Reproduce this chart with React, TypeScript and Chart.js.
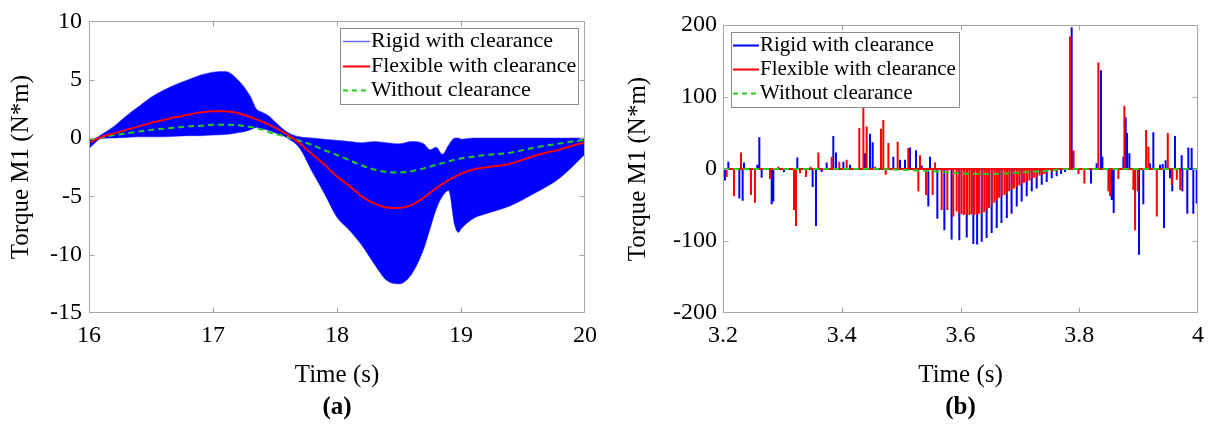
import React, { useEffect, useRef } from 'react';
import { Chart, registerables } from 'chart.js';

Chart.register(...registerables);

const FONT = '"Liberation Serif", "Times New Roman", serif';

// ---------- Panel (a): time 16-20 s ----------
const timeA = [16.0, 16.05, 16.1, 16.2, 16.3, 16.4, 16.5, 16.6, 16.7, 16.8, 16.9, 17.0, 17.1, 17.2, 17.3, 17.35, 17.4, 17.45, 17.5, 17.6, 17.7, 17.8, 17.9, 18.0, 18.1, 18.2, 18.3, 18.4, 18.5, 18.6, 18.7, 18.75, 18.8, 18.85, 18.9, 18.95, 18.98, 19.0, 19.1, 19.2, 19.4, 19.6, 19.8, 20.0];
// envelope of the rigid (oscillating) response
const rigidUpperA = [-0.2, -0.05, 0.3, 1.0, 1.9, 2.7, 3.5, 4.1, 4.6, 5.0, 5.4, 5.65, 5.7, 5.0, 3.6, 2.5, 2.2, 1.9, 1.4, 0.5, 0.1, 0.0, -0.1, -0.2, -0.3, -0.4, -0.3, -0.4, -0.5, -0.3, -0.5, -1.0, -0.8, -1.4, -0.6, 0.0, 0.0, -0.1, 0.0, 0.0, 0.0, 0.0, 0.0, 0.0];
const rigidLowerA = [-0.9, -0.4, -0.05, 0.0, 0.05, 0.1, 0.1, 0.1, 0.15, 0.2, 0.2, 0.25, 0.3, 0.45, 0.7, 0.9, 0.8, 0.65, 0.45, 0.0, -0.9, -2.9, -4.8, -6.8, -7.9, -9.2, -10.8, -12.2, -12.5, -11.7, -9.5, -7.8, -6.1, -5.0, -4.5, -7.5, -8.1, -7.8, -6.9, -6.5, -5.8, -4.7, -3.4, -1.4];
const flexibleA = [-0.4, -0.15, 0.1, 0.4, 0.7, 1.0, 1.3, 1.55, 1.8, 2.0, 2.2, 2.3, 2.3, 2.15, 1.8, 1.6, 1.4, 1.15, 0.9, 0.3, -0.45, -1.4, -2.3, -3.3, -4.1, -5.0, -5.6, -5.95, -6.0, -5.75, -5.1, -4.7, -4.3, -3.95, -3.6, -3.3, -3.15, -3.05, -2.7, -2.5, -2.2, -1.5, -0.97, -0.35];
const withoutA = [-0.1, -0.05, 0.05, 0.25, 0.4, 0.55, 0.7, 0.8, 0.9, 1.0, 1.05, 1.15, 1.15, 1.1, 0.95, 0.85, 0.7, 0.5, 0.35, 0.1, -0.25, -0.6, -1.05, -1.45, -1.9, -2.35, -2.7, -2.9, -2.95, -2.85, -2.6, -2.45, -2.3, -2.15, -2.0, -1.85, -1.8, -1.75, -1.6, -1.45, -1.25, -0.8, -0.46, -0.15];
const xTicksA = ['16', '17', '18', '19', '20'];
const yTicksA = ['-15', '-10', '-5', '0', '5', '10'];

// ---------- Panel (b): time 3.2-4 s, impulse spikes ----------
const rigidSpikeTimeB = [3.2034, 3.209, 3.2275, 3.2331, 3.2354, 3.2578, 3.2612, 3.2651, 3.282, 3.2848, 3.3027, 3.3252, 3.351, 3.3566, 3.3662, 3.3746, 3.3858, 3.3903, 3.4027, 3.4139, 3.4392, 3.4476, 3.4521, 3.4869, 3.4981, 3.5065, 3.5149, 3.525, 3.5346, 3.5458, 3.5486, 3.561, 3.5728, 3.585, 3.598, 3.6105, 3.6216, 3.628, 3.6357, 3.644, 3.6525, 3.661, 3.669, 3.678, 3.686, 3.6947, 3.703, 3.7115, 3.72, 3.7283, 3.7368, 3.7452, 3.7536, 3.762, 3.7694, 3.776, 3.7872, 3.79, 3.8198, 3.8293, 3.8366, 3.8389, 3.8546, 3.858, 3.8743, 3.8782, 3.8805, 3.8844, 3.9006, 3.9079, 3.9191, 3.9248, 3.936, 3.9405, 3.9427, 3.9455, 3.9528, 3.9567, 3.9612, 3.9725, 3.9736, 3.982, 3.9837, 3.9893, 3.9921, 3.9978];
const rigidSpikeValB = [-16, 10, -41, -44, 9, 6, 44, -12, -49, -45, -4, 16, -25, -79, -4, 9, 46, 23, 10, 6, 22, 49, 37, 17, 13, 13, 30, 26, 5, -52, 17, -69, -85, -98, -99, -95, -104, -105, -101, -96, -89, -82, -75, -68, -62, -52, -45, -38, -31, -27, -22, -18, -13, -10, -7, -4, 197, 24, -20, 8, 137, 17, -43, -61, 17, 72, 50, 22, -119, -49, 8, 51, 6, 7, -82, 12, -13, -31, 46, 19, -31, -62, 30, 29, -62, -48];
const flexSpikeTimeB = [3.2062, 3.2185, 3.2303, 3.2472, 3.2539, 3.2792, 3.2932, 3.3196, 3.3229, 3.3297, 3.3398, 3.3476, 3.3606, 3.383, 3.3959, 3.4083, 3.4296, 3.4364, 3.442, 3.456, 3.4661, 3.47, 3.474, 3.4785, 3.4942, 3.5121, 3.529, 3.5318, 3.5419, 3.5531, 3.5571, 3.5683, 3.5778, 3.5879, 3.5935, 3.598, 3.602, 3.606, 3.6104, 3.615, 3.6188, 3.623, 3.6272, 3.631, 3.6357, 3.64, 3.6441, 3.648, 3.6525, 3.657, 3.661, 3.665, 3.6694, 3.674, 3.6778, 3.682, 3.6863, 3.69, 3.6947, 3.699, 3.7031, 3.707, 3.7115, 3.716, 3.72, 3.724, 3.7284, 3.733, 3.7368, 3.741, 3.7452, 3.7537, 3.7621, 3.7705, 3.7845, 3.7901, 3.7986, 3.8086, 3.8322, 3.8491, 3.8519, 3.8659, 3.876, 3.8912, 3.894, 3.8985, 3.9126, 3.9165, 3.9306, 3.9491, 3.9559, 3.9643, 3.97];
const flexSpikeValB = [-11, -38, 23, -36, -47, -14, 3, -57, -79, -6, -11, 3, 23, 17, 10, 13, 57, 87, 59, 3, 56, 68, -8, 36, 38, 29, -31, 19, -36, -36, 9, -57, -57, -66, -59, -62, -63, -64, -63, -64, -63, -64, -63, -62, -62, -60, -57, -54, -50, -47, -43, -40, -38, -36, -34, -31, -29, -27, -25, -23, -21, -19, -18, -16, -14, -12, -11, -9, -8, -7, -6, -4, -3, -1.5, 184, 26, -7, -20, 148, -31, -38, -14, 88, -29, -85, -31, 54, 31, -66, 50, -22, -15, -29];
const withoutTimeB = [3.2, 3.45, 3.5, 3.55, 3.6, 3.65, 3.7, 3.75, 3.78, 4.0];
const withoutValB = [0, 0, -1, -3, -6, -7, -5, -2, 0, 0];
const xTicksB = ['3.2', '3.4', '3.6', '3.8', '4'];
const yTicksB = ['-200', '-100', '0', '100', '200'];

const legendLabels = ['Rigid with clearance', 'Flexible with clearance', 'Without clearance'];

const BLUE = '#0000ff';
const RED = '#ff0000';
const GREEN = '#22cc22';

const tickLabel = (labels: string[]) => (value: number | string) => {
  const v = Number(value);
  const hit = labels.find((l) => Math.abs(parseFloat(l) - v) < 1e-6);
  return hit ?? '';
};

const pairs = (xs: number[], ys: number[]) => xs.map((x, i) => ({ x, y: ys[i] }));

const spikes = (xs: number[], ys: number[]) => {
  const pts: { x: number; y: number }[] = [];
  xs.forEach((x, i) => {
    pts.push({ x, y: 0 }, { x, y: ys[i] }, { x, y: 0 });
  });
  return pts;
};

// frame around the plot box with inward tick marks on all four sides
const framePlugin = {
  id: 'frameTicks',
  afterDatasetsDraw(chart: any) {
    const { ctx, chartArea } = chart;
    const { left, top, right, bottom } = chartArea;
    const xs = chart.scales.x;
    const ys = chart.scales.y;
    const L = Math.round(left) + 0.5;
    const R = Math.round(right) - 0.5;
    const T = Math.round(top) + 0.5;
    const B = Math.round(bottom) - 0.5;
    ctx.save();
    ctx.strokeStyle = '#a6a6a6';
    ctx.lineWidth = 1;
    ctx.strokeRect(L, T, R - L, B - T);
    ctx.beginPath();
    xs.ticks.forEach((t: any) => {
      const p = Math.round(xs.getPixelForValue(t.value)) + 0.5;
      if (p <= L + 1 || p >= R - 1) return;
      ctx.moveTo(p, B);
      ctx.lineTo(p, B - 5);
      ctx.moveTo(p, T);
      ctx.lineTo(p, T + 5);
    });
    ys.ticks.forEach((t: any) => {
      const p = Math.round(ys.getPixelForValue(t.value)) + 0.5;
      if (p <= T + 1 || p >= B - 1) return;
      ctx.moveTo(L, p);
      ctx.lineTo(L + 5, p);
      ctx.moveTo(R, p);
      ctx.lineTo(R - 5, p);
    });
    ctx.stroke();
    ctx.restore();
  },
};

type LegendItem = { label: string; color: string; width: number; dash?: number[] };
type LegendCfg = {
  anchor: 'left' | 'right';
  offsetX: number;
  offsetY: number;
  width: number;
  height: number;
  firstRow: number;
  rowGap: number;
  sampleStart: number;
  sampleLen: number;
  textStart: number;
  fontSize: number;
  items: LegendItem[];
};

const boxLegend = (cfg: LegendCfg) => ({
  id: 'boxLegend',
  afterDraw(chart: any) {
    const { ctx, chartArea } = chart;
    const x0 = Math.round(
      cfg.anchor === 'right' ? chartArea.right - cfg.offsetX - cfg.width : chartArea.left + cfg.offsetX
    );
    const y0 = Math.round(chartArea.top + cfg.offsetY);
    ctx.save();
    ctx.fillStyle = '#ffffff';
    ctx.fillRect(x0, y0, cfg.width, cfg.height);
    ctx.strokeStyle = '#8c8c8c';
    ctx.lineWidth = 1;
    ctx.strokeRect(x0 + 0.5, y0 + 0.5, cfg.width, cfg.height);
    cfg.items.forEach((it, i) => {
      const cy = Math.round(y0 + cfg.firstRow + i * cfg.rowGap);
      ctx.beginPath();
      ctx.setLineDash(it.dash || []);
      ctx.strokeStyle = it.color;
      ctx.lineWidth = it.width;
      ctx.moveTo(x0 + cfg.sampleStart, cy + 0.5);
      ctx.lineTo(x0 + cfg.sampleStart + cfg.sampleLen, cy + 0.5);
      ctx.stroke();
      ctx.setLineDash([]);
      ctx.fillStyle = '#000000';
      ctx.font = `${cfg.fontSize}px ${FONT}`;
      ctx.textAlign = 'left';
      ctx.textBaseline = 'middle';
      ctx.fillText(it.label, x0 + cfg.textStart, cy);
    });
    ctx.restore();
  },
});

const scalesFor = (
  xMin: number, xMax: number, xStep: number, xLabels: string[],
  yMin: number, yMax: number, yStep: number, yLabels: string[],
  yAxisWidth: number, yTitlePad: number, yTickPad: number
) => ({
  x: {
    type: 'linear',
    min: xMin,
    max: xMax,
    grid: { display: false, drawTicks: false, tickLength: 0 },
    border: { display: false },
    ticks: {
      stepSize: xStep,
      autoSkip: false,
      maxRotation: 0,
      padding: 8,
      color: '#000',
      font: { family: FONT, size: 24 },
      callback: tickLabel(xLabels),
    },
    title: {
      display: true,
      text: 'Time (s)',
      color: '#000',
      font: { family: FONT, size: 25 },
      padding: { top: 0, bottom: 3 },
    },
    afterFit: (s: any) => {
      s.height = 80;
    },
  },
  y: {
    type: 'linear',
    min: yMin,
    max: yMax,
    grid: { display: false, drawTicks: false, tickLength: 0 },
    border: { display: false },
    ticks: {
      stepSize: yStep,
      autoSkip: false,
      padding: yTickPad,
      color: '#000',
      font: { family: FONT, size: 24 },
      callback: tickLabel(yLabels),
    },
    title: {
      display: true,
      text: 'Torque M1 (N*m)',
      color: '#000',
      font: { family: FONT, size: 25 },
      padding: { top: yTitlePad, bottom: 0 },
    },
    afterFit: (s: any) => {
      s.width = yAxisWidth;
    },
  },
});

const baseOptions = (panel: string, padRight: number, padTop: number, scales: any) => ({
  responsive: false,
  maintainAspectRatio: false,
  animation: false,
  layout: { padding: { left: 0, right: padRight, top: padTop, bottom: 1 } },
  elements: { point: { radius: 0 } },
  plugins: {
    legend: { display: false },
    tooltip: { enabled: false },
    title: {
      display: true,
      text: panel,
      position: 'bottom',
      fullSize: false,
      color: '#000',
      font: { family: FONT, size: 25, weight: 'bold' },
      padding: { top: 0, bottom: 0 },
    },
  },
  scales,
});

const makeConfigA = (): any => ({
  type: 'line',
  data: {
    datasets: [
      {
        label: legendLabels[0],
        data: pairs(timeA, rigidUpperA),
        borderColor: 'rgba(50,50,255,0.55)',
        borderWidth: 1,
        backgroundColor: BLUE,
        fill: '+1',
        pointRadius: 0,
        cubicInterpolationMode: 'monotone',
        order: 2,
      },
      {
        label: legendLabels[0] + ' (lower envelope)',
        data: pairs(timeA, rigidLowerA),
        borderColor: 'rgba(50,50,255,0.55)',
        borderWidth: 1,
        fill: false,
        pointRadius: 0,
        cubicInterpolationMode: 'monotone',
        order: 2,
      },
      {
        label: legendLabels[1],
        data: pairs(timeA, flexibleA),
        borderColor: RED,
        borderWidth: 2,
        fill: false,
        pointRadius: 0,
        cubicInterpolationMode: 'monotone',
        order: 0,
      },
      {
        label: legendLabels[2],
        data: pairs(timeA, withoutA),
        borderColor: GREEN,
        borderWidth: 2,
        borderDash: [6, 4],
        fill: false,
        pointRadius: 0,
        cubicInterpolationMode: 'monotone',
        order: 1,
      },
    ],
  },
  options: baseOptions('(a)', 23, 20, scalesFor(16, 20, 1, xTicksA, -15, 10, 5, yTicksA, 89, 6, 7)),
  plugins: [
    framePlugin,
    boxLegend({
      anchor: 'right',
      offsetX: 7,
      offsetY: 7,
      width: 238,
      height: 76,
      firstRow: 13,
      rowGap: 24.5,
      sampleStart: 3,
      sampleLen: 27,
      textStart: 31,
      fontSize: 22,
      items: [
        { label: legendLabels[0], color: '#6f6fff', width: 1.5 },
        { label: legendLabels[1], color: RED, width: 2 },
        { label: legendLabels[2], color: GREEN, width: 2, dash: [5, 4] },
      ],
    }),
  ],
});

const makeConfigB = (): any => ({
  type: 'line',
  data: {
    datasets: [
      {
        label: legendLabels[0],
        data: spikes(rigidSpikeTimeB, rigidSpikeValB),
        borderColor: BLUE,
        borderWidth: 2,
        borderJoinStyle: 'bevel',
        fill: false,
        pointRadius: 0,
        order: 2,
      },
      {
        label: legendLabels[1],
        data: spikes(flexSpikeTimeB, flexSpikeValB),
        borderColor: RED,
        borderWidth: 2,
        borderJoinStyle: 'bevel',
        fill: false,
        pointRadius: 0,
        order: 1,
      },
      {
        label: legendLabels[2],
        data: pairs(withoutTimeB, withoutValB),
        borderColor: GREEN,
        borderWidth: 2,
        borderDash: [6, 4],
        fill: false,
        pointRadius: 0,
        cubicInterpolationMode: 'monotone',
        order: 0,
      },
    ],
  },
  options: baseOptions('(b)', 18, 25, scalesFor(3.2, 4, 0.2, xTicksB, -200, 200, 100, yTicksB, 115, 15, 6)),
  plugins: [
    framePlugin,
    boxLegend({
      anchor: 'left',
      offsetX: 8,
      offsetY: 7,
      width: 228,
      height: 75,
      firstRow: 13,
      rowGap: 24,
      sampleStart: 2,
      sampleLen: 26,
      textStart: 29,
      fontSize: 21,
      items: [
        { label: legendLabels[0], color: BLUE, width: 2 },
        { label: legendLabels[1], color: RED, width: 2 },
        { label: legendLabels[2], color: GREEN, width: 2, dash: [5, 4] },
      ],
    }),
  ],
});

function Panel({ makeConfig, left }: { makeConfig: () => any; left: number }) {
  const ref = useRef<HTMLCanvasElement>(null);
  useEffect(() => {
    if (!ref.current) return;
    const chart = new Chart(ref.current, makeConfig());
    return () => chart.destroy();
  }, [makeConfig]);
  return (
    <canvas
      ref={ref}
      width={608}
      height={424}
      style={{ position: 'absolute', left, top: 0, width: 608, height: 424 }}
    />
  );
}

export default function App() {
  return (
    <div style={{ position: 'fixed', left: 0, top: 0, width: 1216, height: 424, background: '#ffffff' }}>
      <Panel makeConfig={makeConfigA} left={0} />
      <Panel makeConfig={makeConfigB} left={608} />
    </div>
  );
}
